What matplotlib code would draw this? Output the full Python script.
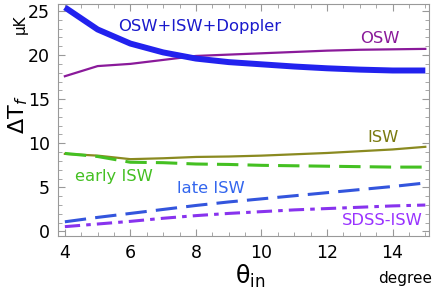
import matplotlib.pyplot as plt
from matplotlib.ticker import MultipleLocator

theta = [4, 5, 6, 7, 8, 9, 10, 11, 12, 13, 14, 15]
total = [25.4, 22.9, 21.3, 20.3, 19.6, 19.2, 18.95, 18.7, 18.5, 18.35, 18.25, 18.25]
osw = [17.6, 18.75, 19.0, 19.45, 19.9, 20.05, 20.2, 20.35, 20.5, 20.6, 20.65, 20.7]
isw = [8.8, 8.6, 8.2, 8.3, 8.45, 8.5, 8.6, 8.75, 8.9, 9.1, 9.3, 9.6]
early_isw = [8.85, 8.5, 7.85, 7.8, 7.65, 7.6, 7.5, 7.45, 7.4, 7.35, 7.3, 7.3]
late_isw = [1.1, 1.6, 2.05, 2.5, 2.95, 3.35, 3.7, 4.05, 4.4, 4.75, 5.1, 5.5]
sdss_isw = [0.55, 0.85, 1.15, 1.5, 1.8, 2.05, 2.25, 2.45, 2.6, 2.75, 2.9, 3.0]

plt.rcParams["font.family"] = ["DejaVu Sans"]
plt.rcParams["mathtext.fontset"] = "dejavusans"

fig = plt.figure(figsize=(4.36, 2.99), dpi=100)
ax = fig.add_axes([0.133, 0.211, 0.85, 0.776])

ax.plot(theta, osw, color="#8a1a9a", lw=1.6)
ax.plot(theta, total, color="#2222ee", lw=4.3, solid_capstyle="butt")
ax.plot(theta, isw, color="#8a8a20", lw=1.6)
ax.plot(theta, early_isw, color="#44c022", lw=2.2, dashes=(7, 3))
ax.plot(theta, late_isw, color="#3355dd", lw=2.2, dashes=(7, 3))
ax.plot(theta, sdss_isw, color="#8833ee", lw=2.2, dashes=(5, 2, 1.5, 2))

label_kw = dict(fontsize=11.8, ha="center", va="center")
ax.text(8.1, 23.2, "OSW+ISW+Doppler", color="#1a1acc", **label_kw)
ax.text(13.6, 21.9, "OSW", color="#8a1a9a", **label_kw)
ax.text(13.7, 10.7, "ISW", color="#7a7a10", **label_kw)
ax.text(5.5, 6.2, "early ISW", color="#44c022", **label_kw)
ax.text(8.45, 4.9, "late ISW", color="#3366ee", **label_kw)
ax.text(13.7, 1.3, "SDSS-ISW", color="#9933ff", **label_kw)

ax.set_xlim(3.79, 15.1)
ax.set_ylim(-0.5, 25.8)
ax.xaxis.set_major_locator(MultipleLocator(2))
ax.xaxis.set_minor_locator(MultipleLocator(0.5))
ax.yaxis.set_major_locator(MultipleLocator(5))
ax.yaxis.set_minor_locator(MultipleLocator(1))
ax.tick_params(which="both", direction="in", top=True, right=True,
               color="#999999", labelsize=12.5, labelcolor="black")
ax.tick_params(which="major", length=5, width=0.8, pad=6)
ax.tick_params(which="minor", length=3, width=0.6)
for spine in ax.spines.values():
    spine.set_color("#999999")
    spine.set_linewidth(0.8)

fig.text(0.046, 0.92, "μK", rotation=90, fontsize=11, ha="center", va="center")
fig.text(0.042, 0.615, "ΔT$_f$", rotation=90, fontsize=16,
         ha="center", va="center")
fig.text(0.573, 0.075, r"θ$_{\mathrm{in}}$", fontsize=17, ha="center", va="center")
fig.text(0.929, 0.07, "degree", fontsize=11, ha="center", va="center")

fig.savefig("out.png", dpi=100)
